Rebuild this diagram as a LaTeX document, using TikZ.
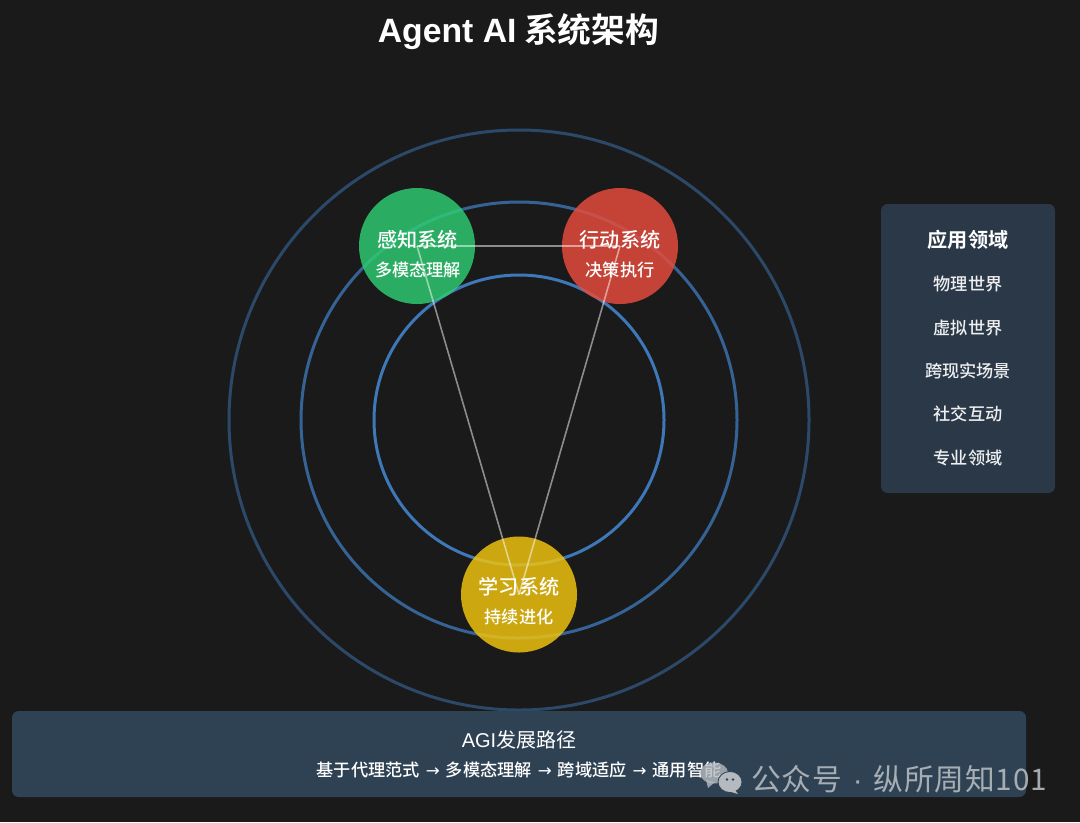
\documentclass[tikz,border=0pt]{standalone}
\usepackage{fontspec}
\setmainfont{Noto Sans CJK SC Medium}
\newfontfamily\regcjk{Noto Sans CJK SC}
\newfontfamily\boldcjk{Noto Sans CJK SC Bold}
\newfontfamily\latinf{Liberation Sans}
\newfontfamily\arrowfont{DejaVu Sans}
\newfontfamily\markfont[LetterSpace=3]{Noto Sans CJK SC}
\definecolor{bgc}{HTML}{1A1A1A}
\definecolor{ringc}{HTML}{3F78B8}
\definecolor{greenc}{HTML}{2ECC71}
\definecolor{redc}{HTML}{E74C3C}
\definecolor{yellowc}{HTML}{F1C40F}
\definecolor{sidec}{HTML}{2B3848}
\definecolor{bottomc}{HTML}{2F4254}
\definecolor{markc}{HTML}{B4BABF}
\newcommand{\pathsep}{\makebox[19.5pt][c]{\fontsize{12.5}{14}\arrowfont →}}
\tikzset{
  x=0.75pt,y=-0.75pt,
  ring/.style={circle,draw=ringc,line width=2.25pt,fill=none,inner sep=0pt,minimum size=#1*0.75pt},
  sysnode/.style={circle,fill=#1,fill opacity=0.83,draw=none,inner sep=0pt,minimum size=87pt},
  link/.style={draw=white,draw opacity=0.5,line width=1.2pt},
  head/.style={text=white,font=\fontsize{15.1}{18}\selectfont,inner sep=0pt,anchor=center},
  sub/.style={text=white,font=\fontsize{12.9}{15}\selectfont,inner sep=0pt,anchor=center},
  panel/.style={fill=#1,rounded corners=5pt,draw=none},
  item/.style={text=white,text opacity=0.92,font=\fontsize{12.9}{15}\selectfont,inner sep=0pt,anchor=center},
}
\begin{document}
\begin{tikzpicture}
\useasboundingbox (0,0) rectangle (1080,822);
\fill[bgc] (0,0) rectangle (1080,822);
\node[text=white,font=\fontsize{25.3}{30}\selectfont\boldcjk,inner sep=0pt] (title) at (518.5,32) {{\latinf\bfseries Agent AI} 系统架构};

\node[ring=580,draw opacity=0.5] (outer) at (519,420) {};
\node[ring=436,draw opacity=0.78] (middle) at (519,420) {};
\node[ring=290] (inner) at (519,420) {};

\node[sysnode=greenc] (perceive) at (417,246) {};
\node[sysnode=redc] (act) at (620,246) {};
\node[sysnode=yellowc] (learn) at (519,594.5) {};

\draw[link] (perceive.center) -- (act.center);
\draw[link] (act.center) -- (learn.center);
\draw[link] (learn.center) -- (perceive.center);

\node[head] (t1) at (417.5,240) {感知系统};
\node[sub] (s1) at (418,270) {多模态理解};
\node[head] (t2) at (620,240) {行动系统};
\node[sub] (s2) at (620,270) {决策执行};
\node[head] (t3) at (519,587) {学习系统};
\node[sub] (s3) at (519,617) {持续进化};

\path[panel=sidec] (881,204) rectangle (1055,493);
\node[text=white,font=\fontsize{15.1}{18}\selectfont\boldcjk,inner sep=0pt] (ptitle) at (968,240) {应用领域};
\node[item] (p1) at (968,284) {物理世界};
\node[item] (p2) at (968,328) {虚拟世界};
\node[item] (p3) at (968,371) {跨现实场景};
\node[item] (p4) at (968,414) {社交互动};
\node[item] (p5) at (968,458) {专业领域};

\path[panel=bottomc] (12,711) rectangle (1026,797);
\node[text=white,font=\fontsize{15}{18}\selectfont\regcjk,inner sep=0pt] (agi) at (519,740) {{\latinf AGI}发展路径};
\node[text=white,font=\fontsize{12.9}{15}\selectfont,inner sep=0pt] (path) at (519,770) {基于代理范式\pathsep 多模态理解\pathsep 跨域适应\pathsep 通用智能};

% watermark
\fill[markc,fill opacity=0.8] (714,773) ellipse (14 and 10.5);
\fill[markc,fill opacity=0.8] (706,780) -- (708,788) -- (715,782) -- cycle;
\fill[markc,draw=bottomc,line width=0.6pt] (730,782) ellipse (12 and 10.5);
\fill[markc] (735,790) -- (738,794) -- (728,791) -- cycle;
\fill[bottomc] (727,779.5) circle (1.4);
\fill[bottomc] (733,779.5) circle (1.4);
\node[text=markc,text opacity=0.9,font=\fontsize{22.3}{26}\selectfont\markfont,inner sep=0pt,anchor=west] (wm) at (751,779) {公众号\hspace{8pt}{\latinf·}\hspace{8pt}纵所周知101};
\end{tikzpicture}
\end{document}
